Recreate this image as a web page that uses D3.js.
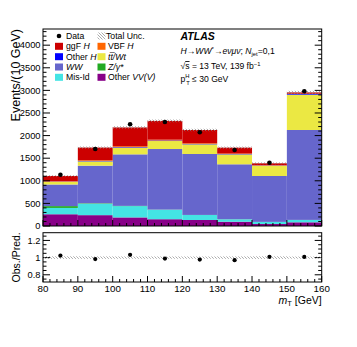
<!DOCTYPE html>
<html><head><meta charset="utf-8">
<script src="https://cdn.jsdelivr.net/npm/d3@7"></script>
<style>
html,body{margin:0;padding:0;background:#fff;}
svg{display:block;font-family:"Liberation Sans",Arial,Helvetica,sans-serif;}
</style></head>
<body><div id="chart"></div>
<script>
// ---- data ----
const binEdges = [80, 90, 100, 110, 120, 130, 140, 150, 160];
const otherVV = [260, 240, 190, 150, 133, 95, 44, 82];
const misId   = [140, 253, 250, 210, 110, 53, 46, 51];
const zgamma  = [40, 10, 5, 3, 2, 2, 1, 2];
const ww      = [478, 831, 1140, 1340, 1348, 1215, 1015, 1989];
const ttWt    = [57, 96, 148, 177, 214, 220, 228, 781];
const otherH  = [8, 10, 12, 12, 10, 8, 5, 15];
const vbfH    = [12, 15, 20, 18, 15, 10, 5, 5];
const ggfH    = [112, 280, 415, 415, 292, 130, 43, 30];
const dataVals = [1133, 1705, 2250, 2300, 2075, 1681, 1400, 2980];
const relUnc  = [0.015, 0.014, 0.013, 0.013, 0.013, 0.014, 0.015, 0.012];
const yTicks = [0, 500, 1000, 1500, 2000, 2500, 3000, 3500, 4000];
const ratioTicks = [0.8, 1, 1.2];
const xTicks = [80, 90, 100, 110, 120, 130, 140, 150, 160];

const series = [
  {key:"otherVV", vals:otherVV, color:"#880088"},
  {key:"misId",   vals:misId,   color:"#44E4E4"},
  {key:"zgamma",  vals:zgamma,  color:"#22AA22"},
  {key:"ww",      vals:ww,      color:"#6666CC"},
  {key:"ttWt",    vals:ttWt,    color:"#EBE843"},
  {key:"otherH",  vals:otherH,  color:"#0000FF"},
  {key:"vbfH",    vals:vbfH,    color:"#FF6600"},
  {key:"ggfH",    vals:ggfH,    color:"#CC0000"}
];

const W = 357, H = 347;
const L = 43, R = 321.7, mTop = 29, mBot = 226, rTop = 232.7, rBot = 282;

const svg = d3.select("#chart").append("svg").attr("width", W).attr("height", H);
const defs = svg.append("defs");
const pat = defs.append("pattern").attr("id","hatch").attr("patternUnits","userSpaceOnUse")
  .attr("width",3).attr("height",3);
pat.append("path").attr("d","M-1,-1 L4,4 M-1,2 L1,4 M2,-1 L4,1").attr("stroke","#888").attr("stroke-width",0.7);

const x = d3.scaleLinear().domain([80,160]).range([L,R]);
const y = d3.scaleLinear().domain([0,4358]).range([mBot,mTop]);
const yr = d3.scaleLinear().domain([0.716,1.29]).range([rBot,rTop]);

const bins = d3.range(binEdges.length-1);
const table = bins.map(i => {
  const o = {i, lo:binEdges[i], hi:binEdges[i+1]};
  series.forEach(s => o[s.key] = s.vals[i]);
  return o;
});
const stack = d3.stack().keys(series.map(s=>s.key))(table);

const g = svg.append("g");
stack.forEach((layer, k) => {
  g.selectAll(null).data(layer).enter().append("rect")
    .attr("x", d => x(d.data.lo))
    .attr("width", d => x(d.data.hi) - x(d.data.lo))
    .attr("y", d => y(d[1]))
    .attr("height", d => Math.max(0, y(d[0]) - y(d[1])))
    .attr("fill", series[k].color);
});
const totals = bins.map(i => d3.sum(series, s => s.vals[i]));

// uncertainty band main
g.selectAll(null).data(bins).enter().append("rect")
  .attr("x", i => x(binEdges[i])).attr("width", i => x(binEdges[i+1]) - x(binEdges[i]))
  .attr("y", i => y(totals[i]*(1+relUnc[i])))
  .attr("height", i => y(totals[i]*(1-relUnc[i])) - y(totals[i]*(1+relUnc[i])))
  .attr("fill","url(#hatch)");

// data points
g.selectAll(null).data(bins).enter().append("circle")
  .attr("cx", i => x((binEdges[i]+binEdges[i+1])/2))
  .attr("cy", i => y(dataVals[i])).attr("r", 2.3).attr("fill","#000");

// axes main
const tickLen = 7, minorLen = 3.5;
const ax = svg.append("g").attr("stroke","#000").attr("stroke-width",1).attr("fill","none");
ax.append("rect").attr("x",L).attr("y",mTop).attr("width",R-L).attr("height",mBot-mTop);
d3.range(0, 4301, 100).forEach(v => {
  const major = v % 500 === 0;
  const len = major ? tickLen : minorLen;
  ax.append("line").attr("x1",L).attr("x2",L+len).attr("y1",y(v)).attr("y2",y(v));
  ax.append("line").attr("x1",R).attr("x2",R-len).attr("y1",y(v)).attr("y2",y(v));
});
d3.range(80, 160.1, 2).forEach(v => {
  const major = v % 10 === 0;
  const len = major ? 6 : 3;
  ax.append("line").attr("x1",x(v)).attr("x2",x(v)).attr("y1",mBot).attr("y2",mBot-len);
  ax.append("line").attr("x1",x(v)).attr("x2",x(v)).attr("y1",rBot).attr("y2",rBot-len);
});
svg.append("g").selectAll("text").data(yTicks).enter().append("text")
  .attr("x", L-2.5).attr("y", d => y(d)+3.3).attr("text-anchor","end")
  .attr("font-size", 9.3).text(d => d);

// ratio panel
const rg = svg.append("g");
rg.selectAll(null).data(bins).enter().append("rect")
  .attr("x", i => x(binEdges[i])).attr("width", i => x(binEdges[i+1]) - x(binEdges[i]))
  .attr("y", i => yr(1+relUnc[i])).attr("height", i => yr(1-relUnc[i]) - yr(1+relUnc[i]))
  .attr("fill","url(#hatch)");
rg.selectAll(null).data(bins).enter().append("circle")
  .attr("cx", i => x((binEdges[i]+binEdges[i+1])/2))
  .attr("cy", i => yr(dataVals[i]/totals[i])).attr("r", 2.1).attr("fill","#000");
ax.append("rect").attr("x",L).attr("y",rTop).attr("width",R-L).attr("height",rBot-rTop);
d3.range(0.75, 1.2501, 0.05).forEach(v => {
  const major = Math.abs(Math.round(v*10) - v*10) < 1e-6 && Math.round(v*10) % 2 === 0;
  const len = major ? tickLen : minorLen;
  ax.append("line").attr("x1",L).attr("x2",L+len).attr("y1",yr(v)).attr("y2",yr(v));
  ax.append("line").attr("x1",R).attr("x2",R-len).attr("y1",yr(v)).attr("y2",yr(v));
});
svg.append("g").selectAll("text").data(ratioTicks).enter().append("text")
  .attr("x", L-2.5).attr("y", d => yr(d)+3.3).attr("text-anchor","end")
  .attr("font-size", 9.3).text(d => d);
svg.append("g").selectAll("text").data(xTicks).enter().append("text")
  .attr("x", d => x(d)).attr("y", rBot+9.8).attr("text-anchor","middle")
  .attr("font-size", 9.8).text(d => d);

// axis titles
svg.append("text").attr("transform",`translate(19.5,${mTop}) rotate(-90)`)
  .attr("text-anchor","end").attr("font-size",12.5).text("Events/(10 GeV)");
svg.append("text").attr("transform",`translate(19.5,${(rTop+rBot)/2}) rotate(-90)`)
  .attr("text-anchor","middle").attr("font-size",10.5).text("Obs./Pred.");
const xl = svg.append("text").attr("x",R).attr("y",303.5).attr("text-anchor","end").attr("font-size",10.5);
xl.append("tspan").attr("font-style","italic").text("m");
xl.append("tspan").attr("font-size",7.5).attr("dy",2.5).text("T");
xl.append("tspan").attr("dy",-2.5).text(" [GeV]");

// legend
const leg = svg.append("g").attr("font-size",8.7);
const rowY = [36, 46.3, 56.7, 67, 77.3];
function label(t, parts){ parts.forEach(p => { const s = t.append("tspan").text(p[0]); if(p[1]) s.attr("font-style","italic"); }); }
leg.append("circle").attr("cx",59).attr("cy",rowY[0]).attr("r",2.3).attr("fill","#000");
label(leg.append("text").attr("x",66).attr("y",rowY[0]+3), [["Data"]]);
const leftEntries = [
  {c:"#CC0000", parts:[["ggF "],["H",1]]},
  {c:"#0000FF", parts:[["Other "],["H",1]]},
  {c:"#6666CC", parts:[["WW",1]]},
  {c:"#44E4E4", parts:[["Mis-Id"]]}
];
leftEntries.forEach((e,k) => {
  leg.append("rect").attr("x",55).attr("y",rowY[k+1]-3.5).attr("width",8).attr("height",7).attr("fill",e.c);
  label(leg.append("text").attr("x",66).attr("y",rowY[k+1]+3), e.parts);
});
leg.append("rect").attr("x",97.5).attr("y",rowY[0]-3.5).attr("width",8).attr("height",7).attr("fill","url(#hatch)");
label(leg.append("text").attr("x",106).attr("y",rowY[0]+3), [["Total Unc."]]);
const rightEntries = [
  {c:"#FF6600", parts:[["VBF "],["H",1]]},
  {c:"#EBE843", parts:null},
  {c:"#22AA22", parts:[["Z/γ*",1]]},
  {c:"#880088", parts:[["Other "],["VV(V)",1]]}
];
rightEntries.forEach((e,k) => {
  leg.append("rect").attr("x",97.5).attr("y",rowY[k+1]-3.5).attr("width",8).attr("height",7).attr("fill",e.c);
  const t = leg.append("text").attr("x",108).attr("y",rowY[k+1]+3);
  if (e.parts) label(t, e.parts);
  else {
    t.append("tspan").attr("font-style","italic").text("t");
    t.append("tspan").attr("font-style","italic").text("t\u0305");
    t.append("tspan").attr("font-style","italic").text("/Wt");
  }
});

// ATLAS label
const ann = svg.append("g");
ann.append("text").attr("x",180.5).attr("y",40).attr("font-size",10.5).attr("font-weight","bold")
  .attr("font-style","italic").text("ATLAS");
const l2 = ann.append("text").attr("x",180.5).attr("y",54).attr("font-size",8.6);
l2.append("tspan").attr("font-style","italic").text("H");
l2.append("tspan").text("\u2192");
l2.append("tspan").attr("font-style","italic").text("WW");
l2.append("tspan").attr("font-size",6).attr("dy",-3).text("*");
l2.append("tspan").attr("dy",3).text("\u2192");
l2.append("tspan").attr("font-style","italic").text("e\u03BD\u03BC\u03BD");
l2.append("tspan").text("; ");
l2.append("tspan").attr("font-style","italic").text("N");
l2.append("tspan").attr("font-size",5.8).attr("dy",2).text("jet");
l2.append("tspan").attr("dy",-2).text("=0,1");
const l3 = ann.append("text").attr("x",180.5).attr("y",69).attr("font-size",8.6);
l3.append("tspan").text("\u221A");
l3.append("tspan").style("text-decoration","overline").text("s");
l3.append("tspan").text(" = 13 TeV, 139 fb");
l3.append("tspan").attr("font-size",5.8).attr("dy",-3).text("\u22121");
const l4 = ann.append("text").attr("x",180.5).attr("y",82).attr("font-size",8.6);
l4.append("tspan").text("p");
l4.append("tspan").attr("font-size",5.8).attr("dy",-4).text("H");
l4.append("tspan").attr("font-size",5.8).attr("dx",-3.3).attr("dy",6.5).text("T");
l4.append("tspan").attr("dy",-2.5).text(" \u2264 30 GeV");
</script></body></html>
